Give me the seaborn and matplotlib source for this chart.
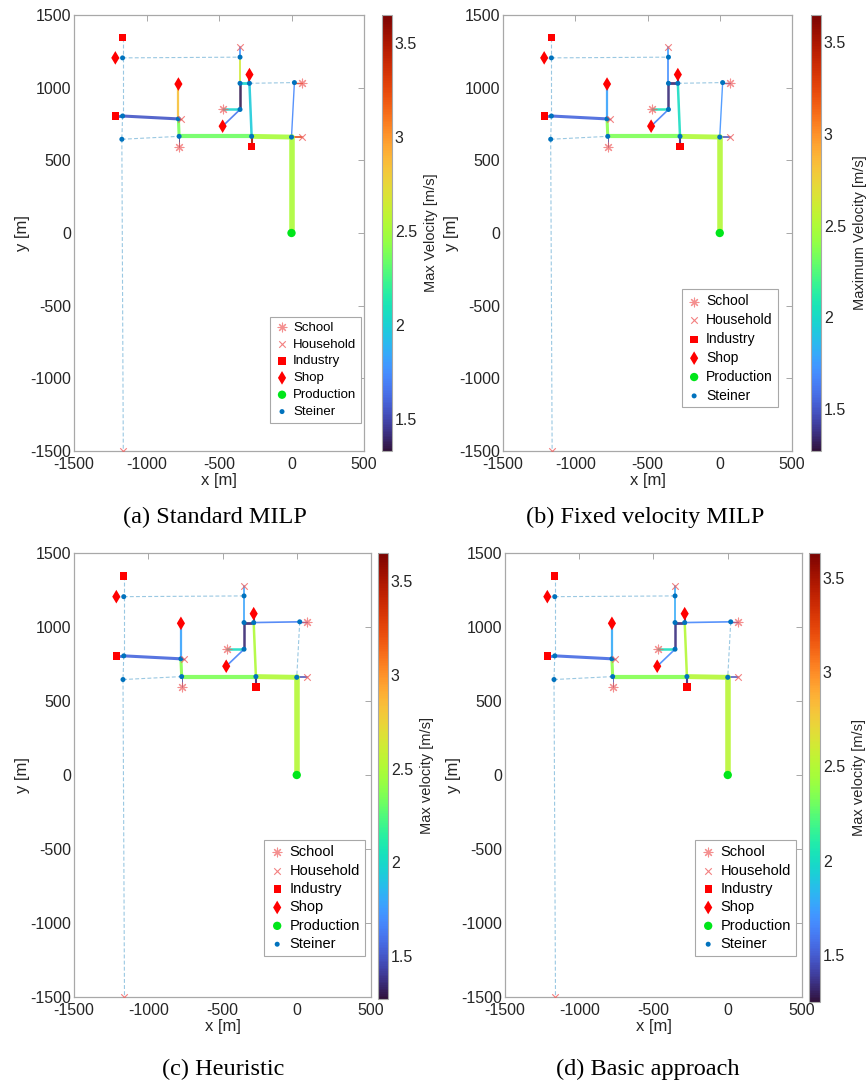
import warnings
warnings.filterwarnings("ignore")
import numpy as np
import pandas as pd
import matplotlib
matplotlib.use("Agg")
import matplotlib.pyplot as plt
import seaborn as sns
from matplotlib.colors import Normalize
from matplotlib.cm import ScalarMappable

sns.set_theme(style="white")
plt.rcParams["font.family"] = ["Liberation Sans", "DejaVu Sans"]
plt.rcParams["axes.unicode_minus"] = False

# ---------------- data ----------------
steiner_x = [-1165, -355, -355, -290, 20, -1165, -780, -355, -1170, -775, -275, 0]
steiner_y = [1205, 1210, 1030, 1030, 1035, 805, 785, 850, 645, 665, 665, 660]
school_x = [-470, -775, 70]
school_y = [850, 595, 1035]
household_x = [-355, -760, 70, -1160]
household_y = [1280, 785, 660, -1500]
industry_x = [-1165, -1215, -275]
industry_y = [1345, 805, 595]
shop_x = [-1215, -780, -290, -475]
shop_y = [1205, 1025, 1090, 735]
production_x = [0]
production_y = [0]

edge_from = ["I1", "S1", "S1", "S6", "S9", "S9", "P1", "S4", "S5", "H1", "S2", "S3", "P3", "S3",
             "S8", "S8", "S4", "S5", "S12", "S12", "S11", "S10", "S11", "S7", "S7", "S7", "S6", "I2", "S10"]
edge_to = ["S1", "S2", "S6", "S9", "H4", "S10", "S1", "S5", "S12", "S2", "S3", "S4", "S4", "S8",
           "C1", "P4", "S11", "C3", "H3", "G", "S12", "S11", "I3", "S10", "P2", "H2", "S7", "S6", "C2"]
# edge flow weight (line width); 0 velocity = unused candidate edge (dashed)
edge_flow = [0.8, 0.8, 0.8, 0.8, 0.8, 0.8, 0.8, 1.2, 1.0, 1.3, 1.3, 2.0, 1.5, 1.8,
             1.8, 1.2, 1.8, 1.0, 1.2, 4.0, 3.5, 3.0, 1.5, 2.2, 1.6, 1.0, 2.2, 2.0, 0.6]

vel_a = [0, 0, 0, 0, 0, 0, 0, 0, 1.72, 1.78, 2.65, 2.02, 3.40, 1.36,
         2.02, 1.66, 1.98, 3.30, 3.30, 2.52, 2.50, 2.35, 3.50, 2.38, 2.85, 3.30, 1.55, 1.55, 1.40]
vel_b = [0, 0, 0, 0, 0, 0, 0, 0, 1.72, 1.75, 1.70, 1.35, 1.35, 1.36,
         2.05, 1.66, 2.02, 1.45, 1.45, 2.52, 2.50, 2.35, 1.35, 2.38, 1.78, 1.45, 1.55, 1.55, 1.40]
vel_c = [0, 0, 0, 0, 0, 0, 0, 1.65, 0, 1.78, 1.78, 1.35, 1.35, 1.35,
         2.02, 1.66, 2.50, 1.45, 1.45, 2.52, 2.50, 2.35, 1.35, 2.38, 1.78, 1.45, 1.55, 1.55, 1.40]
vel_d = [0, 0, 0, 0, 0, 0, 0, 1.65, 0, 1.78, 1.78, 1.35, 1.35, 1.35,
         2.02, 1.66, 2.50, 1.45, 1.45, 2.52, 2.50, 2.35, 1.35, 2.38, 1.78, 1.45, 1.55, 1.55, 1.40]

clim_a = (1.33, 3.65)
clim_b = (1.27, 3.65)
clim_c = (1.27, 3.65)
clim_d = (1.25, 3.63)

captions = ["(a) Standard MILP", "(b) Fixed velocity MILP", "(c) Heuristic", "(d) Basic approach"]
cbar_labels = ["Max Velocity [m/s]", "Maximum Velocity [m/s]", "Max velocity [m/s]", "Max velocity [m/s]"]
x_ticks = [-1500, -1000, -500, 0, 500]
y_ticks = [-1500, -1000, -500, 0, 500, 1000, 1500]
cbar_ticks = [1.5, 2, 2.5, 3, 3.5]

# --------------- node lookup ---------------
nodes = {}
for i, (x, y) in enumerate(zip(steiner_x, steiner_y)):
    nodes[f"S{i+1}"] = (x, y)
for i, (x, y) in enumerate(zip(school_x, school_y)):
    nodes[f"C{i+1}"] = (x, y)
for i, (x, y) in enumerate(zip(household_x, household_y)):
    nodes[f"H{i+1}"] = (x, y)
for i, (x, y) in enumerate(zip(industry_x, industry_y)):
    nodes[f"I{i+1}"] = (x, y)
for i, (x, y) in enumerate(zip(shop_x, shop_y)):
    nodes[f"P{i+1}"] = (x, y)
nodes["G"] = (production_x[0], production_y[0])

W, H = 867, 1086
fig = plt.figure(figsize=(W / 100, H / 100), dpi=100)


def rect(l, r, t, b):
    return [l / W, 1 - b / H, (r - l) / W, (b - t) / H]


panels = [
    dict(ax=rect(74, 364, 15, 451), cax=rect(382, 392, 15, 451), vel=vel_a, clim=clim_a,
         leg=dict(anchor=(0.99, 0.065), fs=9.5, sp=0.35), cap=(215, 517)),
    dict(ax=rect(503, 792, 15, 451), cax=rect(811, 821, 15, 451), vel=vel_b, clim=clim_b,
         leg=dict(anchor=(0.95, 0.10), fs=10, sp=0.35), cap=(645, 517)),
    dict(ax=rect(74, 371, 553, 997), cax=rect(378, 388, 553, 999), vel=vel_c, clim=clim_c,
         leg=dict(anchor=(0.98, 0.092), fs=10.5, sp=0.3), cap=(223, 1069)),
    dict(ax=rect(505, 802, 553, 997), cax=rect(809, 820, 553, 1002), vel=vel_d, clim=clim_d,
         leg=dict(anchor=(0.98, 0.092), fs=10.5, sp=0.3), cap=(648, 1069)),
]

cmap = plt.get_cmap("turbo")
spine_c = "#a8a8a8"
text_c = "#262626"

for k, p in enumerate(panels):
    ax = fig.add_axes(p["ax"])
    norm = Normalize(*p["clim"])
    # edges
    for a, b, v, w in zip(edge_from, edge_to, p["vel"], edge_flow):
        (x1, y1), (x2, y2) = nodes[a], nodes[b]
        seg = pd.DataFrame({"x": [x1, x2], "y": [y1, y2]})
        if v == 0:
            sns.lineplot(data=seg, x="x", y="y", ax=ax, sort=False, estimator=None,
                         color="#8fc2df", linewidth=0.8, linestyle=(0, (3.5, 2.0)),
                         alpha=0.9, zorder=1)
        else:
            sns.lineplot(data=seg, x="x", y="y", ax=ax, sort=False, estimator=None,
                         color=cmap(norm(v)), linewidth=w, alpha=0.9, zorder=2)
    # nodes
    sns.scatterplot(x=steiner_x, y=steiner_y, ax=ax, marker="o", s=13, color="#0072BD",
                    edgecolor="none", label="Steiner", zorder=4)
    sns.scatterplot(x=school_x, y=school_y, ax=ax, marker=(8, 2, 0), s=40, color="#f06060",
                    linewidth=0.8, alpha=0.7, label="School", zorder=5)
    sns.scatterplot(x=household_x, y=household_y, ax=ax, marker="x", s=22, color="#f06060",
                    linewidth=0.8, alpha=0.8, label="Household", zorder=5)
    sns.scatterplot(x=industry_x, y=industry_y, ax=ax, marker="s", s=28, color="#ff0000",
                    edgecolor="none", label="Industry", zorder=5)
    sns.scatterplot(x=shop_x, y=shop_y, ax=ax, marker="d", s=48, color="#ff0000",
                    edgecolor="none", label="Shop", zorder=5)
    sns.scatterplot(x=production_x, y=production_y, ax=ax, marker="o", s=36, color="#00e61a",
                    edgecolor="none", label="Production", zorder=5)

    ax.set_xlim(-1500, 500)
    ax.set_ylim(-1500, 1500)
    ax.set_xticks(x_ticks)
    ax.set_yticks(y_ticks)
    ax.tick_params(direction="in", length=4, width=0.7, color=spine_c, top=True, right=True,
                   labelsize=11.5, labelcolor=text_c, pad=2)
    ax.tick_params(axis="x", pad=4)
    for s in ax.spines.values():
        s.set_visible(True)
        s.set_color(spine_c)
        s.set_linewidth(0.9)
    ax.set_xlabel("x [m]", fontsize=12, color=text_c, labelpad=1)
    ax.set_ylabel("y [m]", fontsize=12, color=text_c, labelpad=0)

    handles, labels = ax.get_legend_handles_labels()
    order = ["School", "Household", "Industry", "Shop", "Production", "Steiner"]
    hl = dict(zip(labels, handles))
    lg = p["leg"]
    leg = ax.legend([hl[o] for o in order], order, loc="lower right", bbox_to_anchor=lg["anchor"],
                    fontsize=lg["fs"], frameon=True, fancybox=False, framealpha=1,
                    edgecolor=spine_c, borderpad=0.35, handletextpad=0.3, handlelength=1.1,
                    labelspacing=lg["sp"], borderaxespad=0)
    leg.get_frame().set_linewidth(0.8)
    for t in leg.get_texts():
        t.set_color("black")

    # colorbar
    cax = fig.add_axes(p["cax"])
    sm = ScalarMappable(norm=norm, cmap=cmap)
    cb = fig.colorbar(sm, cax=cax)
    cb.set_ticks(cbar_ticks)
    cb.set_ticklabels(["1.5", "2", "2.5", "3", "3.5"])
    cb.outline.set_edgecolor(spine_c)
    cb.outline.set_linewidth(0.8)
    cax.tick_params(direction="in", length=3, width=0.7, color="#666666",
                    labelsize=11.5, labelcolor=text_c, pad=2)
    cb.set_label(cbar_labels[k], fontsize=10.5, color=text_c, labelpad=5)

    cx, cy = p["cap"]
    fig.text(cx / W, 1 - cy / H, captions[k], ha="center", va="center",
             fontsize=17.5, family="Liberation Serif", color="black")

fig.savefig("out.png", dpi=100, facecolor="white")
